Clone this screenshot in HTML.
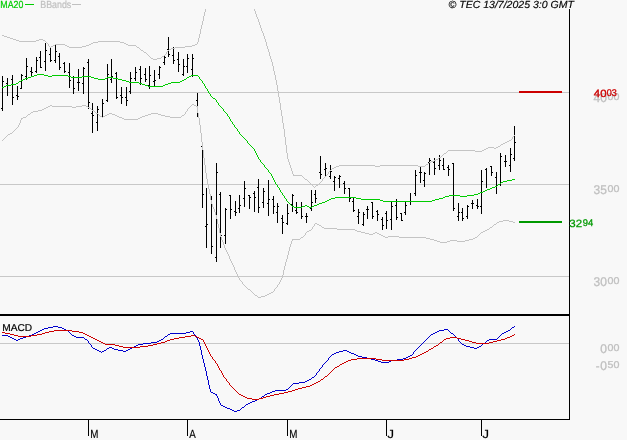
<!DOCTYPE html>
<html lang="en"><head><meta charset="utf-8"><title>TEC chart</title>
<style>html,body{margin:0;padding:0;background:#f8f8f8}svg{display:block}text{font-family:"Liberation Sans",sans-serif;text-rendering:geometricPrecision}.c{shape-rendering:crispEdges}.l{fill:none;stroke-width:1;shape-rendering:crispEdges;stroke-linejoin:round;stroke-linecap:round}</style></head><body>
<svg width="627" height="440" viewBox="0 0 627 440">
<rect width="627" height="440" fill="#f8f8f8"/>
<g class="c" fill="#c8c8c8">
<rect x="0" y="92" width="569" height="1"/>
<rect x="0" y="184" width="569" height="1"/>
<rect x="0" y="276" width="569" height="1"/>
<rect x="0" y="343" width="569" height="1"/>
</g>
<text transform="translate(593.552,101.6) scale(0.9524,1)" font-size="12.6" fill="#c0c0c0" stroke="#c0c0c0" stroke-width="0.3">40</text><text transform="translate(607.6,100) scale(1.0806,1)" font-size="9.9" fill="#c0c0c0" stroke="#c0c0c0" stroke-width="0.3">00</text>
<text transform="translate(593.552,193.6) scale(0.9524,1)" font-size="12.6" fill="#c0c0c0" stroke="#c0c0c0" stroke-width="0.3">35</text><text transform="translate(607.6,192) scale(1.0806,1)" font-size="9.9" fill="#c0c0c0" stroke="#c0c0c0" stroke-width="0.3">00</text>
<text transform="translate(593.552,285.6) scale(0.9524,1)" font-size="12.6" fill="#c0c0c0" stroke="#c0c0c0" stroke-width="0.3">30</text><text transform="translate(607.6,284) scale(1.0806,1)" font-size="9.9" fill="#c0c0c0" stroke="#c0c0c0" stroke-width="0.3">00</text>
<text transform="translate(600.226,352.6) scale(0.9524,1)" font-size="12.6" fill="#c0c0c0" stroke="#c0c0c0" stroke-width="0.3">0</text><text transform="translate(607.6,351) scale(1.0806,1)" font-size="9.9" fill="#c0c0c0" stroke="#c0c0c0" stroke-width="0.3">00</text>
<text transform="translate(600.226,369.6) scale(0.9524,1)" font-size="12.6" fill="#c0c0c0" stroke="#c0c0c0" stroke-width="0.3">0</text><text transform="translate(607.6,368) scale(1.0806,1)" font-size="9.9" fill="#c0c0c0" stroke="#c0c0c0" stroke-width="0.3">50</text>
<text transform="translate(595.7,369.7) scale(0.9509,1)" font-size="12" fill="#c0c0c0" stroke="#c0c0c0" stroke-width="0.3">-</text>
<g class="c" fill="#000">
<rect x="2" y="76" width="1" height="35"/>
<rect x="1" y="108" width="1" height="1"/>
<rect x="3" y="81" width="1" height="1"/>
<rect x="7" y="78" width="1" height="18"/>
<rect x="6" y="83" width="1" height="1"/>
<rect x="8" y="85" width="1" height="1"/>
<rect x="12" y="75" width="1" height="30"/>
<rect x="11" y="79" width="1" height="1"/>
<rect x="13" y="97" width="1" height="1"/>
<rect x="17" y="86" width="1" height="14"/>
<rect x="16" y="95" width="1" height="1"/>
<rect x="18" y="96" width="1" height="1"/>
<rect x="21" y="74" width="1" height="15"/>
<rect x="20" y="88" width="1" height="1"/>
<rect x="22" y="75" width="1" height="1"/>
<rect x="26" y="58" width="1" height="22"/>
<rect x="25" y="76" width="1" height="1"/>
<rect x="27" y="66" width="1" height="1"/>
<rect x="31" y="67" width="1" height="10"/>
<rect x="30" y="71" width="1" height="1"/>
<rect x="32" y="72" width="1" height="1"/>
<rect x="36" y="57" width="1" height="16"/>
<rect x="35" y="71" width="1" height="1"/>
<rect x="37" y="60" width="1" height="1"/>
<rect x="40" y="51" width="1" height="17"/>
<rect x="39" y="57" width="1" height="1"/>
<rect x="41" y="67" width="1" height="1"/>
<rect x="45" y="43" width="1" height="28"/>
<rect x="44" y="61" width="1" height="1"/>
<rect x="46" y="50" width="1" height="1"/>
<rect x="50" y="48" width="1" height="14"/>
<rect x="49" y="54" width="1" height="1"/>
<rect x="51" y="60" width="1" height="1"/>
<rect x="55" y="45" width="1" height="18"/>
<rect x="54" y="60" width="1" height="1"/>
<rect x="56" y="51" width="1" height="1"/>
<rect x="59" y="53" width="1" height="17"/>
<rect x="58" y="56" width="1" height="1"/>
<rect x="60" y="67" width="1" height="1"/>
<rect x="64" y="62" width="1" height="11"/>
<rect x="63" y="63" width="1" height="1"/>
<rect x="65" y="71" width="1" height="1"/>
<rect x="69" y="63" width="1" height="25"/>
<rect x="68" y="72" width="1" height="1"/>
<rect x="70" y="80" width="1" height="1"/>
<rect x="73" y="76" width="1" height="18"/>
<rect x="74" y="88" width="1" height="1"/>
<rect x="78" y="69" width="1" height="22"/>
<rect x="77" y="82" width="1" height="1"/>
<rect x="79" y="82" width="1" height="1"/>
<rect x="83" y="67" width="1" height="27"/>
<rect x="82" y="83" width="1" height="1"/>
<rect x="84" y="68" width="1" height="1"/>
<rect x="88" y="59" width="1" height="50"/>
<rect x="87" y="62" width="1" height="1"/>
<rect x="89" y="102" width="1" height="1"/>
<rect x="92" y="103" width="1" height="30"/>
<rect x="91" y="113" width="1" height="1"/>
<rect x="93" y="115" width="1" height="1"/>
<rect x="97" y="106" width="1" height="25"/>
<rect x="96" y="122" width="1" height="1"/>
<rect x="98" y="109" width="1" height="1"/>
<rect x="102" y="99" width="1" height="18"/>
<rect x="103" y="103" width="1" height="1"/>
<rect x="107" y="64" width="1" height="38"/>
<rect x="106" y="100" width="1" height="1"/>
<rect x="108" y="74" width="1" height="1"/>
<rect x="111" y="59" width="1" height="24"/>
<rect x="110" y="79" width="1" height="1"/>
<rect x="112" y="76" width="1" height="1"/>
<rect x="116" y="72" width="1" height="27"/>
<rect x="115" y="73" width="1" height="1"/>
<rect x="117" y="97" width="1" height="1"/>
<rect x="121" y="87" width="1" height="17"/>
<rect x="120" y="95" width="1" height="1"/>
<rect x="122" y="97" width="1" height="1"/>
<rect x="126" y="87" width="1" height="19"/>
<rect x="125" y="97" width="1" height="1"/>
<rect x="127" y="100" width="1" height="1"/>
<rect x="130" y="72" width="1" height="22"/>
<rect x="129" y="91" width="1" height="1"/>
<rect x="131" y="78" width="1" height="1"/>
<rect x="135" y="67" width="1" height="14"/>
<rect x="134" y="78" width="1" height="1"/>
<rect x="136" y="72" width="1" height="1"/>
<rect x="140" y="66" width="1" height="19"/>
<rect x="139" y="69" width="1" height="1"/>
<rect x="141" y="78" width="1" height="1"/>
<rect x="145" y="68" width="1" height="14"/>
<rect x="144" y="74" width="1" height="1"/>
<rect x="146" y="79" width="1" height="1"/>
<rect x="149" y="66" width="1" height="23"/>
<rect x="148" y="85" width="1" height="1"/>
<rect x="150" y="75" width="1" height="1"/>
<rect x="154" y="70" width="1" height="16"/>
<rect x="153" y="81" width="1" height="1"/>
<rect x="155" y="80" width="1" height="1"/>
<rect x="159" y="66" width="1" height="13"/>
<rect x="158" y="74" width="1" height="1"/>
<rect x="160" y="67" width="1" height="1"/>
<rect x="164" y="56" width="1" height="9"/>
<rect x="163" y="62" width="1" height="1"/>
<rect x="165" y="57" width="1" height="1"/>
<rect x="168" y="37" width="1" height="20"/>
<rect x="167" y="49" width="1" height="1"/>
<rect x="169" y="54" width="1" height="1"/>
<rect x="173" y="47" width="1" height="17"/>
<rect x="172" y="55" width="1" height="1"/>
<rect x="174" y="60" width="1" height="1"/>
<rect x="178" y="52" width="1" height="20"/>
<rect x="177" y="59" width="1" height="1"/>
<rect x="179" y="64" width="1" height="1"/>
<rect x="183" y="59" width="1" height="17"/>
<rect x="182" y="74" width="1" height="1"/>
<rect x="184" y="66" width="1" height="1"/>
<rect x="187" y="54" width="1" height="19"/>
<rect x="186" y="66" width="1" height="1"/>
<rect x="188" y="58" width="1" height="1"/>
<rect x="192" y="54" width="1" height="23"/>
<rect x="191" y="69" width="1" height="1"/>
<rect x="193" y="58" width="1" height="1"/>
<rect x="197" y="93" width="1" height="24"/>
<rect x="196" y="100" width="1" height="1"/>
<rect x="198" y="115" width="1" height="1"/>
<rect x="202" y="146" width="1" height="62"/>
<rect x="201" y="146" width="1" height="1"/>
<rect x="203" y="194" width="1" height="1"/>
<rect x="206" y="188" width="1" height="60"/>
<rect x="205" y="226" width="1" height="1"/>
<rect x="207" y="224" width="1" height="1"/>
<rect x="211" y="196" width="1" height="58"/>
<rect x="212" y="246" width="1" height="1"/>
<rect x="216" y="163" width="1" height="99"/>
<rect x="215" y="257" width="1" height="1"/>
<rect x="217" y="172" width="1" height="1"/>
<rect x="220" y="192" width="1" height="56"/>
<rect x="219" y="194" width="1" height="1"/>
<rect x="221" y="235" width="1" height="1"/>
<rect x="225" y="208" width="1" height="36"/>
<rect x="224" y="235" width="1" height="1"/>
<rect x="226" y="209" width="1" height="1"/>
<rect x="230" y="195" width="1" height="24"/>
<rect x="229" y="195" width="1" height="1"/>
<rect x="231" y="209" width="1" height="1"/>
<rect x="235" y="201" width="1" height="15"/>
<rect x="234" y="211" width="1" height="1"/>
<rect x="236" y="212" width="1" height="1"/>
<rect x="239" y="195" width="1" height="18"/>
<rect x="238" y="208" width="1" height="1"/>
<rect x="240" y="205" width="1" height="1"/>
<rect x="244" y="181" width="1" height="26"/>
<rect x="243" y="198" width="1" height="1"/>
<rect x="245" y="188" width="1" height="1"/>
<rect x="249" y="195" width="1" height="14"/>
<rect x="248" y="195" width="1" height="1"/>
<rect x="250" y="197" width="1" height="1"/>
<rect x="254" y="191" width="1" height="21"/>
<rect x="253" y="193" width="1" height="1"/>
<rect x="255" y="197" width="1" height="1"/>
<rect x="258" y="179" width="1" height="34"/>
<rect x="257" y="187" width="1" height="1"/>
<rect x="259" y="207" width="1" height="1"/>
<rect x="263" y="188" width="1" height="20"/>
<rect x="262" y="202" width="1" height="1"/>
<rect x="264" y="191" width="1" height="1"/>
<rect x="268" y="180" width="1" height="36"/>
<rect x="267" y="203" width="1" height="1"/>
<rect x="269" y="199" width="1" height="1"/>
<rect x="273" y="196" width="1" height="18"/>
<rect x="272" y="199" width="1" height="1"/>
<rect x="274" y="206" width="1" height="1"/>
<rect x="277" y="203" width="1" height="20"/>
<rect x="276" y="212" width="1" height="1"/>
<rect x="278" y="206" width="1" height="1"/>
<rect x="282" y="215" width="1" height="19"/>
<rect x="281" y="218" width="1" height="1"/>
<rect x="283" y="222" width="1" height="1"/>
<rect x="287" y="204" width="1" height="21"/>
<rect x="286" y="223" width="1" height="1"/>
<rect x="288" y="213" width="1" height="1"/>
<rect x="292" y="194" width="1" height="18"/>
<rect x="291" y="204" width="1" height="1"/>
<rect x="293" y="195" width="1" height="1"/>
<rect x="296" y="202" width="1" height="12"/>
<rect x="295" y="210" width="1" height="1"/>
<rect x="297" y="212" width="1" height="1"/>
<rect x="301" y="202" width="1" height="17"/>
<rect x="302" y="216" width="1" height="1"/>
<rect x="306" y="213" width="1" height="10"/>
<rect x="305" y="216" width="1" height="1"/>
<rect x="307" y="216" width="1" height="1"/>
<rect x="311" y="190" width="1" height="21"/>
<rect x="310" y="208" width="1" height="1"/>
<rect x="312" y="202" width="1" height="1"/>
<rect x="315" y="190" width="1" height="13"/>
<rect x="314" y="194" width="1" height="1"/>
<rect x="316" y="198" width="1" height="1"/>
<rect x="320" y="156" width="1" height="23"/>
<rect x="319" y="172" width="1" height="1"/>
<rect x="321" y="174" width="1" height="1"/>
<rect x="325" y="163" width="1" height="14"/>
<rect x="324" y="169" width="1" height="1"/>
<rect x="326" y="168" width="1" height="1"/>
<rect x="330" y="165" width="1" height="14"/>
<rect x="329" y="176" width="1" height="1"/>
<rect x="331" y="171" width="1" height="1"/>
<rect x="334" y="176" width="1" height="15"/>
<rect x="333" y="181" width="1" height="1"/>
<rect x="335" y="177" width="1" height="1"/>
<rect x="339" y="175" width="1" height="13"/>
<rect x="338" y="178" width="1" height="1"/>
<rect x="340" y="176" width="1" height="1"/>
<rect x="344" y="181" width="1" height="13"/>
<rect x="343" y="183" width="1" height="1"/>
<rect x="345" y="188" width="1" height="1"/>
<rect x="349" y="188" width="1" height="14"/>
<rect x="348" y="188" width="1" height="1"/>
<rect x="350" y="198" width="1" height="1"/>
<rect x="353" y="198" width="1" height="14"/>
<rect x="352" y="201" width="1" height="1"/>
<rect x="354" y="210" width="1" height="1"/>
<rect x="358" y="209" width="1" height="15"/>
<rect x="357" y="216" width="1" height="1"/>
<rect x="359" y="212" width="1" height="1"/>
<rect x="363" y="212" width="1" height="14"/>
<rect x="362" y="224" width="1" height="1"/>
<rect x="364" y="214" width="1" height="1"/>
<rect x="367" y="206" width="1" height="13"/>
<rect x="366" y="209" width="1" height="1"/>
<rect x="368" y="209" width="1" height="1"/>
<rect x="372" y="202" width="1" height="17"/>
<rect x="371" y="202" width="1" height="1"/>
<rect x="373" y="216" width="1" height="1"/>
<rect x="377" y="210" width="1" height="11"/>
<rect x="376" y="211" width="1" height="1"/>
<rect x="378" y="214" width="1" height="1"/>
<rect x="382" y="217" width="1" height="13"/>
<rect x="381" y="219" width="1" height="1"/>
<rect x="383" y="225" width="1" height="1"/>
<rect x="386" y="211" width="1" height="18"/>
<rect x="385" y="213" width="1" height="1"/>
<rect x="387" y="220" width="1" height="1"/>
<rect x="391" y="202" width="1" height="28"/>
<rect x="390" y="219" width="1" height="1"/>
<rect x="392" y="206" width="1" height="1"/>
<rect x="396" y="199" width="1" height="21"/>
<rect x="395" y="205" width="1" height="1"/>
<rect x="397" y="217" width="1" height="1"/>
<rect x="401" y="213" width="1" height="8"/>
<rect x="400" y="213" width="1" height="1"/>
<rect x="402" y="220" width="1" height="1"/>
<rect x="405" y="202" width="1" height="13"/>
<rect x="404" y="212" width="1" height="1"/>
<rect x="406" y="205" width="1" height="1"/>
<rect x="410" y="193" width="1" height="12"/>
<rect x="415" y="170" width="1" height="26"/>
<rect x="414" y="193" width="1" height="1"/>
<rect x="416" y="175" width="1" height="1"/>
<rect x="420" y="167" width="1" height="16"/>
<rect x="419" y="172" width="1" height="1"/>
<rect x="421" y="172" width="1" height="1"/>
<rect x="424" y="172" width="1" height="15"/>
<rect x="423" y="180" width="1" height="1"/>
<rect x="425" y="173" width="1" height="1"/>
<rect x="429" y="158" width="1" height="17"/>
<rect x="428" y="162" width="1" height="1"/>
<rect x="430" y="160" width="1" height="1"/>
<rect x="434" y="158" width="1" height="17"/>
<rect x="433" y="162" width="1" height="1"/>
<rect x="435" y="168" width="1" height="1"/>
<rect x="439" y="155" width="1" height="15"/>
<rect x="438" y="165" width="1" height="1"/>
<rect x="440" y="160" width="1" height="1"/>
<rect x="443" y="158" width="1" height="12"/>
<rect x="442" y="165" width="1" height="1"/>
<rect x="444" y="169" width="1" height="1"/>
<rect x="448" y="165" width="1" height="11"/>
<rect x="447" y="167" width="1" height="1"/>
<rect x="449" y="169" width="1" height="1"/>
<rect x="453" y="163" width="1" height="48"/>
<rect x="452" y="163" width="1" height="1"/>
<rect x="454" y="208" width="1" height="1"/>
<rect x="458" y="203" width="1" height="18"/>
<rect x="457" y="216" width="1" height="1"/>
<rect x="459" y="212" width="1" height="1"/>
<rect x="462" y="208" width="1" height="13"/>
<rect x="461" y="212" width="1" height="1"/>
<rect x="463" y="218" width="1" height="1"/>
<rect x="467" y="205" width="1" height="14"/>
<rect x="466" y="216" width="1" height="1"/>
<rect x="468" y="206" width="1" height="1"/>
<rect x="472" y="200" width="1" height="9"/>
<rect x="471" y="203" width="1" height="1"/>
<rect x="473" y="203" width="1" height="1"/>
<rect x="477" y="199" width="1" height="10"/>
<rect x="476" y="205" width="1" height="1"/>
<rect x="478" y="206" width="1" height="1"/>
<rect x="481" y="170" width="1" height="44"/>
<rect x="480" y="206" width="1" height="1"/>
<rect x="482" y="181" width="1" height="1"/>
<rect x="486" y="168" width="1" height="20"/>
<rect x="485" y="169" width="1" height="1"/>
<rect x="491" y="166" width="1" height="10"/>
<rect x="490" y="166" width="1" height="1"/>
<rect x="492" y="172" width="1" height="1"/>
<rect x="496" y="172" width="1" height="22"/>
<rect x="495" y="177" width="1" height="1"/>
<rect x="500" y="153" width="1" height="33"/>
<rect x="499" y="184" width="1" height="1"/>
<rect x="501" y="156" width="1" height="1"/>
<rect x="505" y="155" width="1" height="12"/>
<rect x="504" y="161" width="1" height="1"/>
<rect x="506" y="161" width="1" height="1"/>
<rect x="510" y="148" width="1" height="24"/>
<rect x="509" y="165" width="1" height="1"/>
<rect x="511" y="154" width="1" height="1"/>
<rect x="514" y="126" width="1" height="35"/>
<rect x="513" y="158" width="1" height="1"/>
<rect x="515" y="142" width="1" height="1"/>
</g>
<path class="c" fill="#c4c4c4" d="M53 45h2v1h-2zM65 45h2v1h-2zM86 45h3v1h-3zM128 45h8v1h-8zM192 45h3v1h-3zM69 47h13v1h-13zM137 47h2v1h-2zM175 47h10v1h-10zM336 166h3v1h-3zM375 166h5v1h-5zM418 166h7v1h-7zM322 227h2v1h-2zM490 227h2v1h-2zM431 161h3v1h-3zM292 239h8v1h-8zM430 239h4v1h-4zM469 239h4v1h-4zM100 116h2v1h-2zM103 116h2v1h-2zM117 116h2v1h-2zM142 116h3v1h-3zM165 116h5v1h-5zM426 238h4v1h-4zM473 238h2v1h-2zM369 234h4v1h-4zM379 234h2v1h-2zM448 150h27v1h-27zM482 150h2v1h-2zM332 168h2v1h-2zM293 175h9v1h-9zM497 222h2v1h-2zM513 222h2v1h-2zM93 42h5v1h-5zM120 42h4v1h-4zM339 165h36v1h-36zM380 165h38v1h-38zM337 229h18v1h-18zM487 229h2v1h-2zM8 134h2v1h-2zM48 106h2v1h-2zM52 106h20v1h-20zM76 106h6v1h-6zM86 106h2v1h-2zM196 106h2v1h-2zM475 151h7v1h-7zM19 41h17v1h-17zM98 41h22v1h-22zM28 114h2v1h-2zM107 114h2v1h-2zM112 114h3v1h-3zM148 114h3v1h-3zM158 114h3v1h-3zM317 224h2v1h-2zM494 224h2v1h-2zM23 117h3v1h-3zM119 117h3v1h-3zM140 117h2v1h-2zM170 117h11v1h-11zM429 162h2v1h-2zM365 233h4v1h-4zM373 233h2v1h-2zM377 233h2v1h-2zM51 46h2v1h-2zM67 46h2v1h-2zM82 46h4v1h-4zM185 46h7v1h-7zM315 223h2v1h-2zM42 109h2v1h-2zM301 237h2v1h-2zM385 237h3v1h-3zM399 237h27v1h-27zM475 237h2v1h-2zM440 242h7v1h-7zM383 236h2v1h-2zM388 236h11v1h-11zM171 48h4v1h-4zM105 115h2v1h-2zM115 115h2v1h-2zM145 115h3v1h-3zM161 115h4v1h-4zM182 115h2v1h-2zM271 292h2v1h-2zM307 231h2v1h-2zM357 231h4v1h-4zM483 231h2v1h-2zM96 113h2v1h-2zM109 113h3v1h-3zM151 113h7v1h-7zM507 141h2v1h-2zM33 111h5v1h-5zM434 240h3v1h-3zM450 240h7v1h-7zM465 240h4v1h-4zM55 44h10v1h-10zM89 44h2v1h-2zM126 44h2v1h-2zM195 44h2v1h-2zM503 143h2v1h-2zM7 37h3v1h-3zM91 43h2v1h-2zM124 43h2v1h-2zM2 35h2v1h-2zM151 58h2v1h-2zM157 58h4v1h-4zM31 112h2v1h-2zM488 147h6v1h-6zM496 147h2v1h-2zM162 56h2v1h-2zM381 235h2v1h-2zM46 107h2v1h-2zM72 107h4v1h-4zM88 107h2v1h-2zM324 228h13v1h-13zM50 105h2v1h-2zM82 105h4v1h-4zM194 105h2v1h-2zM316 185h2v1h-2zM44 108h2v1h-2zM13 39h3v1h-3zM39 39h4v1h-4zM444 153h2v1h-2zM124 119h14v1h-14zM16 40h3v1h-3zM36 40h3v1h-3zM43 40h2v1h-2zM192 104h2v1h-2zM437 241h3v1h-3zM447 241h3v1h-3zM457 241h8v1h-8zM499 221h4v1h-4zM509 221h4v1h-4zM258 297h3v1h-3zM38 110h4v1h-4zM92 110h2v1h-2zM255 295h2v1h-2zM265 295h2v1h-2zM486 148h2v1h-2zM494 148h2v1h-2zM498 146h2v1h-2zM248 289h2v1h-2zM334 167h2v1h-2zM319 225h2v1h-2zM361 232h4v1h-4zM375 232h2v1h-2zM481 232h2v1h-2zM21 118h2v1h-2zM122 118h2v1h-2zM138 118h2v1h-2zM434 160h2v1h-2zM501 144h2v1h-2zM439 157h2v1h-2zM141 50h2v1h-2zM10 38h3v1h-3zM169 49h2v1h-2zM153 59h4v1h-4zM305 179h2v1h-2zM426 164h2v1h-2zM436 159h2v1h-2zM261 296h4v1h-4zM509 140h2v1h-2zM309 230h2v1h-2zM355 230h2v1h-2zM485 230h2v1h-2zM503 220h6v1h-6zM144 52h2v1h-2zM484 149h2v1h-2zM505 142h2v1h-2zM269 293h2v1h-2zM267 294h2v1h-2zM4 36h3v1h-3zM10 133h2v1h-2zM12 132h1v1h-1zM303 177h1v1h-1zM303 236h1v1h-1zM235 270h1v2h-1zM277 85h1v6h-1zM277 285h1v2h-1zM276 80h1v5h-1zM276 287h1v1h-1zM210 194h1v6h-1zM165 54h1v1h-1zM48 44h1v2h-1zM218 224h1v4h-1zM288 159h1v3h-1zM288 251h1v4h-1zM285 137h1v8h-1zM285 262h1v4h-1zM329 171h1v1h-1zM272 62h1v4h-1zM204 12h1v4h-1zM204 158h1v7h-1zM221 237h1v3h-1zM281 110h1v6h-1zM281 278h1v2h-1zM198 38h1v4h-1zM198 113h1v5h-1zM205 9h1v3h-1zM205 165h1v8h-1zM217 219h1v5h-1zM300 238h1v1h-1zM201 25h1v4h-1zM201 133h1v9h-1zM20 120h1v3h-1zM313 186h1v1h-1zM313 226h1v1h-1zM190 106h1v1h-1zM258 19h1v3h-1zM292 171h1v3h-1zM292 240h1v1h-1zM302 176h1v1h-1zM321 181h1v1h-1zM321 226h1v1h-1zM228 254h1v2h-1zM278 91h1v6h-1zM278 284h1v1h-1zM211 200h1v4h-1zM318 184h1v1h-1zM200 29h1v5h-1zM200 125h1v8h-1zM187 109h1v2h-1zM224 245h1v3h-1zM254 9h1v2h-1zM254 294h1v1h-1zM242 282h1v2h-1zM284 129h1v8h-1zM284 266h1v4h-1zM275 75h1v5h-1zM275 288h1v1h-1zM214 209h1v3h-1zM47 43h1v1h-1zM207 179h1v5h-1zM289 162h1v3h-1zM289 247h1v4h-1zM260 25h1v3h-1zM203 16h1v5h-1zM203 150h1v8h-1zM220 233h1v4h-1zM287 153h1v6h-1zM287 255h1v4h-1zM304 178h1v1h-1zM304 235h1v1h-1zM91 109h1v1h-1zM27 115h1v1h-1zM274 71h1v4h-1zM274 289h1v2h-1zM150 57h1v1h-1zM197 42h1v2h-1zM197 107h1v6h-1zM291 168h1v3h-1zM291 241h1v3h-1zM512 137h1v2h-1zM264 36h1v3h-1zM227 252h1v2h-1zM146 53h1v1h-1zM268 49h1v3h-1zM238 276h1v2h-1zM241 281h1v1h-1zM199 34h1v4h-1zM199 118h1v7h-1zM261 28h1v3h-1zM234 267h1v3h-1zM267 46h1v3h-1zM293 174h1v1h-1zM14 130h1v1h-1zM270 56h1v3h-1zM3 139h1v1h-1zM328 172h1v2h-1zM331 169h1v1h-1zM102 117h1v1h-1zM500 145h1v1h-1zM206 173h1v6h-1zM216 215h1v4h-1zM237 274h1v2h-1zM286 145h1v8h-1zM286 259h1v3h-1zM308 181h1v1h-1zM271 59h1v3h-1zM283 123h1v6h-1zM283 270h1v5h-1zM309 182h1v1h-1zM320 182h1v1h-1zM186 111h1v1h-1zM189 107h1v1h-1zM231 261h1v2h-1zM209 189h1v5h-1zM184 114h1v1h-1zM257 17h1v2h-1zM257 296h1v1h-1zM164 55h1v1h-1zM282 116h1v7h-1zM282 275h1v3h-1zM280 103h1v7h-1zM280 280h1v2h-1zM263 33h1v3h-1zM21 119h1v1h-1zM202 21h1v4h-1zM202 142h1v8h-1zM223 242h1v3h-1zM244 285h1v1h-1zM266 42h1v4h-1zM49 46h1v1h-1zM477 236h1v1h-1zM323 178h1v1h-1zM259 22h1v3h-1zM245 286h1v1h-1zM50 47h1v1h-1zM273 66h1v5h-1zM273 291h1v1h-1zM208 184h1v5h-1zM256 14h1v3h-1zM290 165h1v3h-1zM290 244h1v3h-1zM226 250h1v2h-1zM269 52h1v4h-1zM441 156h1v1h-1zM262 31h1v2h-1zM181 116h1v1h-1zM255 11h1v3h-1zM219 228h1v5h-1zM5 137h1v1h-1zM306 232h1v1h-1zM215 212h1v3h-1zM233 265h1v2h-1zM489 228h1v1h-1zM279 97h1v6h-1zM279 282h1v2h-1zM493 225h1v1h-1zM327 174h1v1h-1zM167 51h1v1h-1zM147 54h1v1h-1zM225 248h1v2h-1zM148 55h1v1h-1zM16 128h1v1h-1zM315 186h1v1h-1zM232 263h1v2h-1zM212 204h1v3h-1zM310 183h1v1h-1zM265 39h1v3h-1zM514 135h1v1h-1zM311 184h1v1h-1zM311 229h1v1h-1zM250 290h1v1h-1zM251 291h1v1h-1zM19 123h1v2h-1zM322 179h1v2h-1zM425 165h1v1h-1zM191 105h1v1h-1zM166 52h1v2h-1zM143 51h1v1h-1zM330 170h1v1h-1zM312 185h1v1h-1zM312 227h1v2h-1zM479 234h1v1h-1zM325 176h1v1h-1zM305 233h1v2h-1zM239 278h1v2h-1zM139 48h1v1h-1zM246 287h1v1h-1zM443 154h1v1h-1zM99 115h1v1h-1zM447 151h1v1h-1zM18 125h1v2h-1zM7 135h1v1h-1zM98 114h1v1h-1zM26 116h1v1h-1zM213 207h1v2h-1zM511 139h1v1h-1zM30 113h1v1h-1zM185 112h1v2h-1zM94 111h1v1h-1zM149 56h1v1h-1zM95 112h1v1h-1zM161 57h1v1h-1zM2 140h1v1h-1zM230 259h1v2h-1zM252 292h1v1h-1zM478 235h1v1h-1zM324 177h1v1h-1zM319 183h1v1h-1zM222 240h1v2h-1zM168 50h1v1h-1zM438 158h1v1h-1zM442 155h1v1h-1zM229 256h1v3h-1zM314 187h1v1h-1zM314 224h1v2h-1zM90 108h1v1h-1zM13 131h1v1h-1zM446 152h1v1h-1zM6 136h1v1h-1zM240 280h1v1h-1zM45 41h1v1h-1zM188 108h1v1h-1zM140 49h1v1h-1zM46 42h1v1h-1zM236 272h1v2h-1zM247 288h1v1h-1zM492 226h1v1h-1zM307 180h1v1h-1zM17 127h1v1h-1zM4 138h1v1h-1zM513 136h1v1h-1zM243 284h1v1h-1zM496 223h1v1h-1zM326 175h1v1h-1zM480 233h1v1h-1zM15 129h1v1h-1zM136 46h1v1h-1zM253 293h1v1h-1zM428 163h1v1h-1z"/>
<path class="c" fill="#00cc00" d="M34 75h3v1h-3zM44 75h4v1h-4zM52 75h16v1h-16zM191 75h7v1h-7zM28 77h3v1h-3zM71 77h11v1h-11zM91 77h3v1h-3zM107 77h6v1h-6zM187 77h2v1h-2zM445 196h4v1h-4zM460 196h7v1h-7zM305 205h2v1h-2zM314 205h3v1h-3zM480 192h3v1h-3zM325 201h2v1h-2zM383 201h49v1h-49zM485 190h2v1h-2zM449 195h11v1h-11zM467 195h7v1h-7zM327 200h2v1h-2zM380 200h3v1h-3zM432 200h3v1h-3zM329 199h2v1h-2zM361 199h19v1h-19zM435 199h4v1h-4zM495 186h2v1h-2zM490 188h2v1h-2zM19 81h2v1h-2zM126 81h3v1h-3zM180 81h2v1h-2zM294 207h8v1h-8zM309 207h3v1h-3zM16 83h2v1h-2zM139 83h3v1h-3zM168 83h3v1h-3zM11 84h5v1h-5zM142 84h3v1h-3zM165 84h3v1h-3zM331 198h4v1h-4zM356 198h5v1h-5zM439 198h4v1h-4zM6 85h5v1h-5zM145 85h3v1h-3zM163 85h2v1h-2zM335 197h21v1h-21zM443 197h2v1h-2zM129 82h10v1h-10zM171 82h9v1h-9zM474 194h4v1h-4zM4 86h2v1h-2zM148 86h15v1h-15zM319 203h3v1h-3zM478 193h2v1h-2zM21 80h2v1h-2zM122 80h4v1h-4zM182 80h2v1h-2zM31 76h3v1h-3zM48 76h4v1h-4zM68 76h3v1h-3zM82 76h9v1h-9zM189 76h2v1h-2zM487 189h3v1h-3zM23 79h2v1h-2zM98 79h7v1h-7zM118 79h4v1h-4zM184 79h2v1h-2zM25 78h3v1h-3zM94 78h4v1h-4zM105 78h2v1h-2zM113 78h5v1h-5zM213 98h2v1h-2zM292 206h2v1h-2zM302 206h3v1h-3zM307 206h2v1h-2zM312 206h2v1h-2zM507 180h5v1h-5zM512 179h3v1h-3zM322 202h3v1h-3zM483 191h2v1h-2zM498 184h2v1h-2zM37 74h7v1h-7zM2 87h2v1h-2zM503 181h4v1h-4zM492 187h3v1h-3zM317 204h2v1h-2zM501 182h2v1h-2zM261 162h1v1h-1zM278 187h1v1h-1zM199 77h1v2h-1zM207 89h1v2h-1zM281 192h1v1h-1zM254 149h1v2h-1zM210 94h1v2h-1zM248 143h1v1h-1zM283 195h1v1h-1zM234 125h1v2h-1zM271 174h1v2h-1zM204 84h1v2h-1zM286 199h1v2h-1zM235 127h1v1h-1zM274 180h1v2h-1zM203 83h1v1h-1zM249 144h1v1h-1zM243 137h1v1h-1zM279 188h1v2h-1zM287 201h1v1h-1zM222 108h1v1h-1zM208 91h1v2h-1zM239 132h1v2h-1zM255 151h1v2h-1zM263 164h1v1h-1zM272 176h1v2h-1zM500 183h1v1h-1zM223 109h1v2h-1zM250 145h1v1h-1zM219 105h1v1h-1zM288 202h1v1h-1zM237 129h1v2h-1zM268 170h1v2h-1zM252 147h1v1h-1zM247 141h1v2h-1zM232 122h1v2h-1zM202 81h1v2h-1zM241 135h1v1h-1zM290 204h1v1h-1zM226 113h1v1h-1zM220 106h1v1h-1zM257 155h1v2h-1zM229 117h1v2h-1zM260 160h1v2h-1zM269 172h1v1h-1zM277 185h1v2h-1zM285 198h1v1h-1zM221 107h1v1h-1zM206 88h1v1h-1zM230 119h1v2h-1zM253 148h1v1h-1zM282 193h1v2h-1zM270 173h1v1h-1zM291 205h1v1h-1zM211 96h1v1h-1zM186 78h1v1h-1zM212 97h1v1h-1zM244 138h1v1h-1zM18 82h1v1h-1zM240 134h1v1h-1zM245 139h1v1h-1zM258 157h1v2h-1zM217 102h1v1h-1zM275 182h1v2h-1zM218 103h1v2h-1zM227 114h1v2h-1zM251 146h1v1h-1zM259 159h1v1h-1zM280 190h1v2h-1zM276 184h1v1h-1zM228 116h1v1h-1zM246 140h1v1h-1zM284 196h1v2h-1zM233 124h1v1h-1zM205 86h1v2h-1zM256 153h1v2h-1zM242 136h1v1h-1zM264 165h1v2h-1zM273 178h1v2h-1zM216 100h1v2h-1zM265 167h1v1h-1zM266 168h1v1h-1zM198 76h1v1h-1zM200 79h1v1h-1zM231 121h1v1h-1zM267 169h1v1h-1zM201 80h1v1h-1zM209 93h1v1h-1zM262 163h1v1h-1zM497 185h1v1h-1zM236 128h1v1h-1zM215 99h1v1h-1zM238 131h1v1h-1zM224 111h1v1h-1zM289 203h1v1h-1zM225 112h1v1h-1z"/>
<path class="c" fill="#0000cc" d="M34 333h2v1h-2zM170 333h16v1h-16zM433 333h2v1h-2zM451 333h2v1h-2zM502 333h2v1h-2zM293 383h6v1h-6zM99 351h2v1h-2zM102 351h2v1h-2zM123 351h3v1h-3zM339 351h4v1h-4zM347 351h2v1h-2zM16 340h2v1h-2zM159 340h2v1h-2zM487 340h2v1h-2zM14 339h2v1h-2zM18 339h2v1h-2zM85 339h2v1h-2zM161 339h2v1h-2zM489 339h8v1h-8zM36 332h2v1h-2zM186 332h4v1h-4zM435 332h2v1h-2zM504 332h2v1h-2zM42 329h2v1h-2zM64 329h2v1h-2zM444 329h4v1h-4zM362 357h5v1h-5zM406 357h2v1h-2zM12 338h2v1h-2zM20 338h3v1h-3zM299 382h6v1h-6zM97 350h2v1h-2zM104 350h2v1h-2zM118 350h5v1h-5zM126 350h2v1h-2zM343 350h4v1h-4zM275 390h11v1h-11zM38 331h2v1h-2zM190 331h3v1h-3zM437 331h2v1h-2zM506 331h2v1h-2zM138 344h5v1h-5zM462 344h2v1h-2zM358 356h4v1h-4zM408 356h2v1h-2zM143 343h8v1h-8zM483 343h2v1h-2zM32 334h2v1h-2zM168 334h2v1h-2zM431 334h2v1h-2zM248 403h2v1h-2zM93 348h2v1h-2zM107 348h2v1h-2zM112 348h2v1h-2zM130 348h2v1h-2zM474 348h3v1h-3zM334 353h2v1h-2zM351 353h3v1h-3zM378 361h3v1h-3zM389 361h2v1h-2zM307 380h2v1h-2zM53 326h5v1h-5zM252 401h3v1h-3zM8 336h2v1h-2zM26 336h3v1h-3zM74 336h2v1h-2zM165 336h2v1h-2zM371 359h4v1h-4zM397 359h6v1h-6zM356 355h2v1h-2zM410 355h2v1h-2zM2 335h6v1h-6zM29 335h3v1h-3zM72 335h2v1h-2zM95 349h2v1h-2zM114 349h4v1h-4zM128 349h2v1h-2zM40 330h2v1h-2zM66 330h2v1h-2zM439 330h5v1h-5zM508 330h2v1h-2zM272 391h3v1h-3zM367 358h4v1h-4zM403 358h3v1h-3zM109 347h3v1h-3zM132 347h2v1h-2zM470 347h4v1h-4zM477 347h2v1h-2zM381 362h8v1h-8zM213 393h2v1h-2zM267 393h3v1h-3zM10 337h2v1h-2zM23 337h3v1h-3zM76 337h8v1h-8zM136 345h2v1h-2zM464 345h2v1h-2zM157 341h2v1h-2zM375 360h3v1h-3zM391 360h6v1h-6zM48 327h5v1h-5zM58 327h4v1h-4zM512 327h2v1h-2zM215 394h2v1h-2zM265 394h2v1h-2zM134 346h2v1h-2zM466 346h4v1h-4zM479 346h2v1h-2zM44 328h4v1h-4zM62 328h2v1h-2zM336 352h3v1h-3zM349 352h2v1h-2zM232 410h2v1h-2zM237 410h3v1h-3zM211 392h2v1h-2zM270 392h2v1h-2zM225 407h2v1h-2zM242 407h2v1h-2zM332 354h2v1h-2zM354 354h2v1h-2zM151 342h6v1h-6zM309 379h2v1h-2zM257 399h2v1h-2zM221 405h2v1h-2zM305 381h2v1h-2zM223 406h2v1h-2zM234 411h3v1h-3zM227 408h3v1h-3zM259 398h2v1h-2zM286 389h2v1h-2zM262 396h2v1h-2zM312 377h2v1h-2zM250 402h2v1h-2zM246 404h2v1h-2zM230 409h2v1h-2zM255 400h2v1h-2zM163 338h1v1h-1zM195 335h1v2h-1zM418 347h1v1h-1zM194 334h1v1h-1zM90 344h1v1h-1zM204 363h1v4h-1zM216 395h1v1h-1zM206 371h1v5h-1zM106 349h1v1h-1zM510 329h1v1h-1zM199 342h1v4h-1zM497 338h1v1h-1zM417 348h1v1h-1zM91 345h1v2h-1zM457 338h1v1h-1zM68 331h1v1h-1zM219 401h1v2h-1zM413 352h1v2h-1zM415 350h1v1h-1zM207 376h1v4h-1zM201 350h1v5h-1zM423 342h1v1h-1zM205 367h1v4h-1zM458 339h1v2h-1zM210 389h1v3h-1zM316 373h1v2h-1zM319 369h1v2h-1zM245 405h1v1h-1zM209 385h1v4h-1zM315 375h1v1h-1zM220 403h1v2h-1zM244 406h1v1h-1zM193 332h1v2h-1zM87 340h1v1h-1zM70 333h1v1h-1zM482 344h1v1h-1zM203 359h1v4h-1zM455 336h1v1h-1zM328 358h1v2h-1zM448 330h1v1h-1zM331 355h1v1h-1zM197 338h1v2h-1zM167 335h1v1h-1zM481 345h1v1h-1zM486 341h1v1h-1zM327 360h1v1h-1zM425 340h1v1h-1zM218 398h1v3h-1zM426 339h1v1h-1zM264 395h1v1h-1zM202 355h1v4h-1zM449 331h1v1h-1zM424 341h1v1h-1zM198 340h1v2h-1zM514 326h1v1h-1zM208 380h1v5h-1zM101 352h1v1h-1zM450 332h1v1h-1zM69 332h1v1h-1zM318 371h1v1h-1zM414 351h1v1h-1zM421 344h1v1h-1zM317 372h1v1h-1zM88 341h1v2h-1zM71 334h1v1h-1zM200 346h1v4h-1zM217 396h1v2h-1zM292 384h1v1h-1zM329 357h1v1h-1zM92 347h1v1h-1zM290 386h1v1h-1zM291 385h1v1h-1zM485 342h1v1h-1zM325 362h1v1h-1zM326 361h1v1h-1zM289 387h1v1h-1zM321 367h1v1h-1zM323 364h1v1h-1zM322 365h1v2h-1zM324 363h1v1h-1zM501 334h1v1h-1zM422 343h1v1h-1zM430 335h1v1h-1zM164 337h1v1h-1zM320 368h1v1h-1zM500 335h1v1h-1zM420 345h1v1h-1zM288 388h1v1h-1zM428 337h1v1h-1zM89 343h1v1h-1zM461 343h1v1h-1zM498 337h1v1h-1zM499 336h1v1h-1zM419 346h1v1h-1zM511 328h1v1h-1zM330 356h1v1h-1zM196 337h1v1h-1zM453 334h1v1h-1zM416 349h1v1h-1zM261 397h1v1h-1zM311 378h1v1h-1zM459 341h1v1h-1zM412 354h1v1h-1zM240 409h1v1h-1zM241 408h1v1h-1zM460 342h1v1h-1zM429 336h1v1h-1zM454 335h1v1h-1zM84 338h1v1h-1zM314 376h1v1h-1zM427 338h1v1h-1zM456 337h1v1h-1z"/>
<path class="c" fill="#cc0000" d="M91 337h2v1h-2zM179 337h6v1h-6zM197 337h2v1h-2zM450 337h7v1h-7zM507 337h3v1h-3zM14 335h4v1h-4zM31 335h6v1h-6zM87 335h2v1h-2zM191 335h4v1h-4zM512 335h2v1h-2zM93 338h2v1h-2zM174 338h5v1h-5zM199 338h2v1h-2zM446 338h4v1h-4zM457 338h4v1h-4zM505 338h2v1h-2zM103 343h2v1h-2zM157 343h4v1h-4zM476 343h13v1h-13zM335 367h2v1h-2zM119 346h4v1h-4zM140 346h8v1h-8zM434 346h2v1h-2zM245 397h2v1h-2zM263 397h3v1h-3zM426 351h2v1h-2zM306 386h4v1h-4zM123 347h17v1h-17zM348 360h3v1h-3zM382 360h22v1h-22zM18 336h13v1h-13zM89 336h2v1h-2zM185 336h6v1h-6zM195 336h2v1h-2zM510 336h2v1h-2zM54 330h18v1h-18zM115 345h4v1h-4zM148 345h5v1h-5zM436 345h2v1h-2zM357 358h19v1h-19zM409 358h3v1h-3zM431 348h2v1h-2zM241 395h2v1h-2zM270 395h4v1h-4zM49 331h5v1h-5zM72 331h7v1h-7zM351 359h6v1h-6zM376 359h6v1h-6zM404 359h5v1h-5zM99 341h2v1h-2zM165 341h2v1h-2zM469 341h3v1h-3zM493 341h4v1h-4zM295 389h3v1h-3zM318 381h2v1h-2zM105 344h10v1h-10zM153 344h4v1h-4zM247 398h5v1h-5zM259 398h4v1h-4zM95 339h2v1h-2zM170 339h4v1h-4zM201 339h2v1h-2zM444 339h2v1h-2zM461 339h4v1h-4zM501 339h4v1h-4zM302 387h4v1h-4zM284 392h4v1h-4zM10 334h4v1h-4zM37 334h5v1h-5zM85 334h2v1h-2zM422 353h2v1h-2zM2 332h3v1h-3zM45 332h4v1h-4zM79 332h4v1h-4zM5 333h5v1h-5zM42 333h3v1h-3zM83 333h2v1h-2zM252 399h7v1h-7zM314 383h2v1h-2zM424 352h2v1h-2zM418 355h2v1h-2zM412 357h4v1h-4zM101 342h2v1h-2zM161 342h4v1h-4zM440 342h2v1h-2zM472 342h4v1h-4zM489 342h4v1h-4zM292 390h3v1h-3zM243 396h2v1h-2zM266 396h4v1h-4zM310 385h2v1h-2zM344 362h2v1h-2zM342 363h2v1h-2zM298 388h4v1h-4zM279 393h5v1h-5zM97 340h2v1h-2zM167 340h3v1h-3zM465 340h4v1h-4zM497 340h4v1h-4zM429 349h2v1h-2zM420 354h2v1h-2zM316 382h2v1h-2zM239 394h2v1h-2zM274 394h5v1h-5zM346 361h2v1h-2zM416 356h2v1h-2zM321 379h2v1h-2zM337 366h2v1h-2zM312 384h2v1h-2zM288 391h4v1h-4zM325 376h2v1h-2zM340 364h2v1h-2zM324 377h1v1h-1zM234 389h1v1h-1zM438 344h1v1h-1zM212 357h1v2h-1zM339 365h1v1h-1zM235 390h1v1h-1zM328 374h1v1h-1zM329 373h1v1h-1zM443 340h1v1h-1zM209 352h1v2h-1zM223 375h1v2h-1zM230 385h1v1h-1zM203 340h1v2h-1zM231 386h1v1h-1zM211 356h1v1h-1zM219 368h1v2h-1zM327 375h1v1h-1zM208 350h1v2h-1zM207 348h1v2h-1zM222 373h1v2h-1zM442 341h1v1h-1zM229 383h1v2h-1zM433 347h1v1h-1zM210 354h1v2h-1zM218 366h1v2h-1zM213 359h1v1h-1zM206 346h1v2h-1zM221 371h1v2h-1zM214 360h1v1h-1zM236 391h1v1h-1zM215 361h1v2h-1zM224 377h1v1h-1zM334 368h1v1h-1zM232 387h1v1h-1zM220 370h1v1h-1zM226 379h1v2h-1zM333 369h1v1h-1zM237 392h1v1h-1zM217 364h1v2h-1zM332 370h1v1h-1zM428 350h1v1h-1zM216 363h1v1h-1zM233 388h1v1h-1zM205 344h1v2h-1zM204 342h1v2h-1zM225 378h1v1h-1zM227 381h1v1h-1zM331 371h1v1h-1zM238 393h1v1h-1zM514 334h1v1h-1zM320 380h1v1h-1zM439 343h1v1h-1zM330 372h1v1h-1zM228 382h1v1h-1zM323 378h1v1h-1z"/>
<g class="c"><rect x="519" y="91" width="43" height="2" fill="#cc0000"/><rect x="519" y="221" width="43" height="2" fill="#009900"/></g>
<g class="c" fill="#000"><rect x="569" y="9" width="1" height="411"/><rect x="0" y="314" width="570" height="2"/><rect x="0" y="419" width="570" height="1"/>
<rect x="88" y="419" width="1" height="17"/>
<rect x="187" y="419" width="1" height="17"/>
<rect x="287" y="419" width="1" height="17"/>
<rect x="386" y="419" width="1" height="17"/>
<rect x="481" y="419" width="1" height="17"/>
</g>
<text transform="translate(90.3,437.6) scale(0.8300,1)" font-size="11.8" fill="#000" stroke="#000" stroke-width="0.15">M</text>
<text transform="translate(189.3,437.6) scale(0.8300,1)" font-size="11.8" fill="#000" stroke="#000" stroke-width="0.15">A</text>
<text transform="translate(289.3,437.6) scale(0.8300,1)" font-size="11.8" fill="#000" stroke="#000" stroke-width="0.15">M</text>
<text transform="translate(387.2,437.6) scale(1.1500,1)" font-size="11.8" fill="#000" stroke="#000" stroke-width="0.15">J</text>
<text transform="translate(482.2,437.6) scale(1.1500,1)" font-size="11.8" fill="#000" stroke="#000" stroke-width="0.15">J</text>
<text transform="translate(593.8,96.5) scale(1.0960,1)" font-size="10.5" fill="#cc0000" stroke="#cc0000" stroke-width="0.35">40</text>
<text transform="translate(606.7,95.6) scale(0.9174,1)" font-size="9.8" fill="#cc0000" stroke="#cc0000" stroke-width="0.35">03</text>
<text transform="translate(569.3,226.6) scale(1.0960,1)" font-size="10.5" fill="#009900" stroke="#009900" stroke-width="0.25">32</text>
<text transform="translate(582.8,225.9) scale(0.9732,1)" font-size="9.7" fill="#009900" stroke="#009900" stroke-width="0.25">94</text>
<text transform="translate(0.3,8) scale(0.8548,1)" font-size="10.3" fill="#00cc00" stroke="#00cc00" stroke-width="0.2">MA20</text>
<rect class="c" x="25" y="4" width="9" height="1" fill="#00cc00"/>
<text transform="translate(40.3,8) scale(0.8593,1)" font-size="10.3" fill="#c0c0c0" stroke="#c0c0c0" stroke-width="0.2">BBands</text>
<rect class="c" x="72" y="4" width="9" height="1" fill="#c0c0c0"/>
<text transform="translate(448.5,7.9) scale(1.0232,1)" font-size="10.3" fill="#000" font-style="italic" stroke="#000" stroke-width="0.15">© TEC 13/7/2025 3:0 GMT</text>
<text transform="translate(2.2,330.9) scale(1.0121,1)" font-size="10" fill="#000" stroke="#000" stroke-width="0.2">MACD</text>
</svg></body></html>
